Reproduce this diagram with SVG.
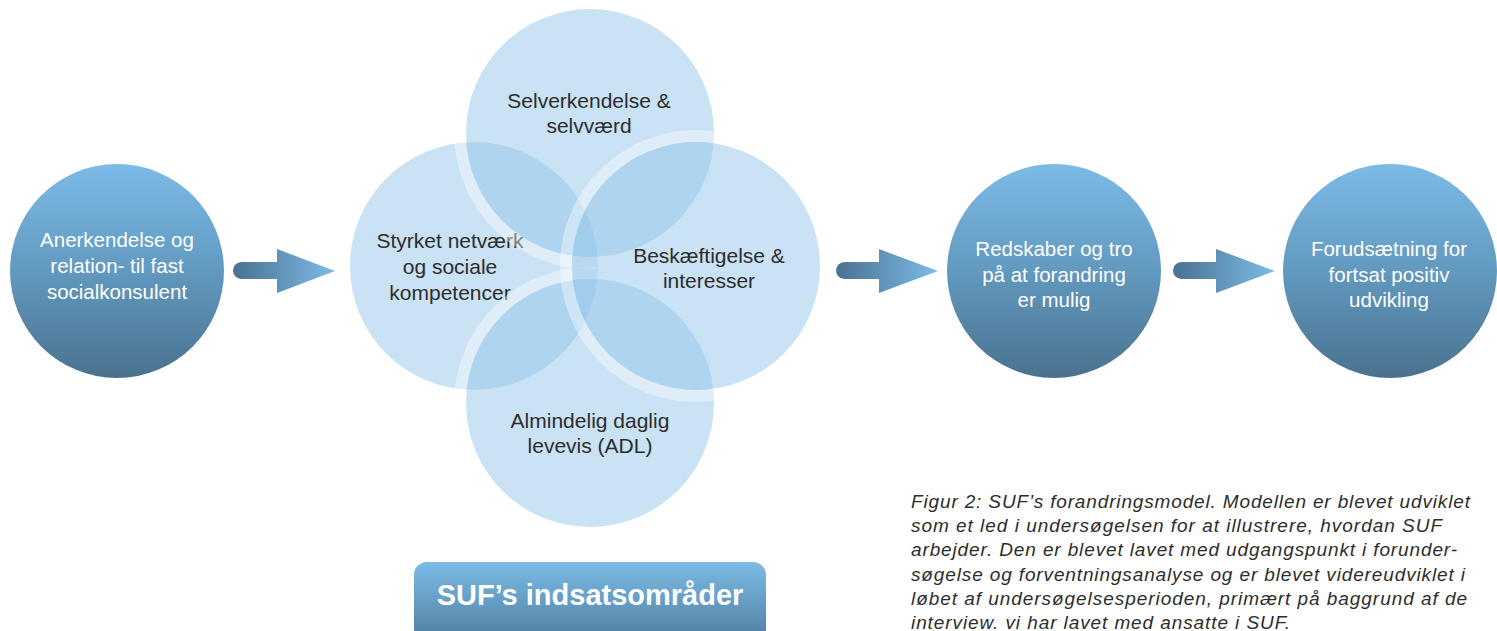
<svg xmlns="http://www.w3.org/2000/svg" width="1497" height="631" viewBox="0 0 1497 631">
  <defs>
    <linearGradient id="gNode" x1="0" y1="0" x2="0" y2="1">
      <stop offset="0" stop-color="#7CBBE7"/>
      <stop offset="0.5" stop-color="#6299BF"/>
      <stop offset="1" stop-color="#4A728F"/>
    </linearGradient>
    <linearGradient id="gArrow" x1="0" y1="0" x2="1" y2="0">
      <stop offset="0" stop-color="#4A728F"/>
      <stop offset="1" stop-color="#7CBBE7"/>
    </linearGradient>
    <linearGradient id="gBtn" x1="0" y1="0" x2="0" y2="1">
      <stop offset="0" stop-color="#7CBBE7"/>
      <stop offset="1" stop-color="#4E7C9C"/>
    </linearGradient>
    <style>
      .node { fill: url(#gNode); }
      .ntext { font-family: "Liberation Sans", Arial, sans-serif; font-size: 20.5px; fill: #ffffff; text-anchor: middle; }
      .vfill { fill: #93C5E9; fill-opacity: 0.5; }
      .vring { fill: none; stroke: #ffffff; stroke-width: 12; stroke-opacity: 0.4; }
      .vtext { font-family: "Liberation Sans", Arial, sans-serif; font-size: 21px; fill: #2d2d2d; text-anchor: middle; }
      .arrow { fill: url(#gArrow); }
      .cap { font-family: "Liberation Sans", Arial, sans-serif; font-size: 19px; font-style: italic; fill: #2d2d2d; }
      .btntext { font-family: "Liberation Sans", Arial, sans-serif; font-size: 29px; font-weight: bold; fill: #ffffff; text-anchor: middle; }
    </style>
  </defs>
  <rect width="1497" height="631" fill="#ffffff"/>

  <g id="node-anerkendelse">
    <circle class="node" cx="117" cy="271" r="107"/>
    <text class="ntext" x="117" y="247">Anerkendelse og</text>
    <text class="ntext" x="117" y="273">relation- til fast</text>
    <text class="ntext" x="117" y="299">socialkonsulent</text>
  </g>

  <g id="node-styrket">
    <circle class="vfill" cx="474" cy="266" r="124"/>
    <text class="vtext" x="450" y="248">Styrket netværk</text>
    <text class="vtext" x="450" y="274">og sociale</text>
    <text class="vtext" x="450" y="300">kompetencer</text>
  </g>
  <g id="node-selverkendelse">
    <circle class="vring" cx="590" cy="133" r="130"/>
    <circle class="vfill" cx="590" cy="133" r="124"/>
    <text class="vtext" x="589" y="108">Selverkendelse &amp;</text>
    <text class="vtext" x="589" y="133">selvværd</text>
  </g>
  <g id="node-almindelig">
    <circle class="vring" cx="590" cy="403" r="130"/>
    <circle class="vfill" cx="590" cy="403" r="124"/>
    <text class="vtext" x="590" y="428">Almindelig daglig</text>
    <text class="vtext" x="590" y="453">levevis (ADL)</text>
  </g>
  <g id="node-beskaeftigelse">
    <circle class="vring" cx="696" cy="266" r="130"/>
    <circle class="vfill" cx="696" cy="266" r="124"/>
    <text class="vtext" x="709" y="263">Beskæftigelse &amp;</text>
    <text class="vtext" x="709" y="288">interesser</text>
  </g>

  <g id="node-redskaber">
    <circle class="node" cx="1054" cy="271" r="107"/>
    <text class="ntext" x="1054" y="256">Redskaber og tro</text>
    <text class="ntext" x="1054" y="282">på at forandring</text>
    <text class="ntext" x="1054" y="307">er mulig</text>
  </g>

  <g id="node-forudsaetning">
    <circle class="node" cx="1390" cy="271" r="107"/>
    <text class="ntext" x="1389" y="256">Forudsætning for</text>
    <text class="ntext" x="1389" y="282">fortsat positiv</text>
    <text class="ntext" x="1389" y="307">udvikling</text>
  </g>

  <g id="connectors">
    <path class="arrow" d="M241.5,262 L277,262 L277,249 L335,271 L277,293 L277,279 L241.5,279 A8.5,8.5 0 0 1 241.5,262 Z"/>
    <path class="arrow" d="M844.5,262 L879,262 L879,249 L938,271 L879,293 L879,279 L844.5,279 A8.5,8.5 0 0 1 844.5,262 Z"/>
    <path class="arrow" d="M1181.5,262 L1216,262 L1216,249 L1275,271 L1216,293 L1216,279 L1181.5,279 A8.5,8.5 0 0 1 1181.5,262 Z"/>
  </g>

  <g id="title">
    <rect x="414" y="562" width="352" height="82" rx="13" ry="13" fill="url(#gBtn)"/>
    <text class="btntext" x="590" y="605">SUF’s indsatsområder</text>
  </g>

  <g id="caption">
    <text class="cap" x="911" y="508" textLength="559" lengthAdjust="spacing">Figur 2: SUF’s forandringsmodel. Modellen er blevet udviklet</text>
    <text class="cap" x="911" y="532" textLength="531" lengthAdjust="spacing">som et led i undersøgelsen for at illustrere, hvordan SUF</text>
    <text class="cap" x="911" y="556" textLength="546" lengthAdjust="spacing">arbejder. Den er blevet lavet med udgangspunkt i forunder-</text>
    <text class="cap" x="911" y="581" textLength="554" lengthAdjust="spacing">søgelse og forventningsanalyse og er blevet videreudviklet i</text>
    <text class="cap" x="911" y="605" textLength="556" lengthAdjust="spacing">løbet af undersøgelsesperioden, primært på baggrund af de</text>
    <text class="cap" x="911" y="629" textLength="379" lengthAdjust="spacing">interview. vi har lavet med ansatte i SUF.</text>
  </g>
</svg>
